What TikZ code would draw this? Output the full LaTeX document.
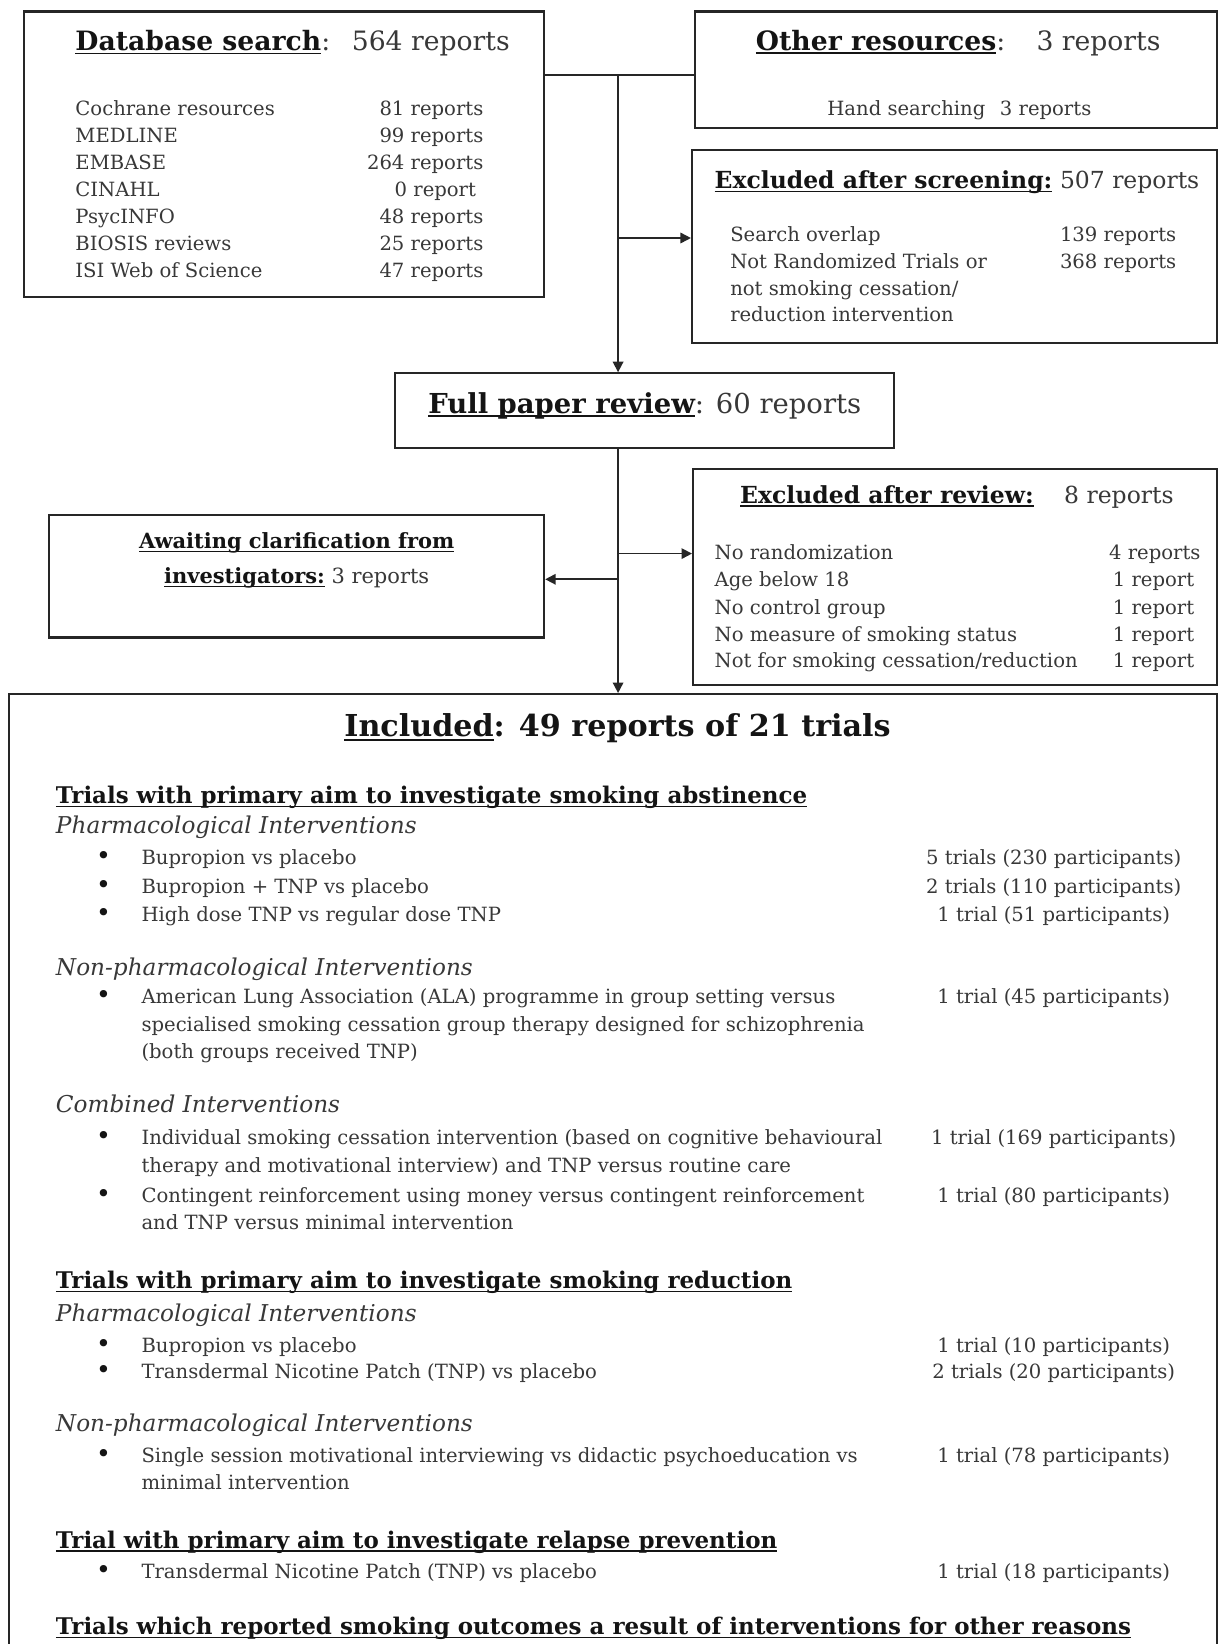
\documentclass[tikz,border=0pt]{standalone}
\usepackage{fontspec}
\setmainfont{DejaVu Serif}
\newfontfamily\condfont{DejaVu Serif}
\usetikzlibrary{arrows.meta,fit}
\definecolor{txtc}{gray}{0.22}
\definecolor{hdc}{gray}{0.08}
\definecolor{linec}{gray}{0.15}
\newcommand{\myul}[1]{\setbox0\hbox{#1}\rlap{\color{hdc}\rule[-1.8pt]{\wd0}{0.75pt}}\box0\relax}
\tikzset{
  box/.style={draw=linec, line width=1pt, inner sep=0pt, fill=white},
  conn/.style={draw=linec, line width=0.8pt},
  arr/.style={conn, -{Triangle[length=5pt,width=5pt]}},
  tx/.style={inner sep=0pt, outer sep=0pt, text=txtc},
  ttl/.style={tx, font=\fontsize{12.7}{15}\selectfont},
  xttl/.style={tx, font=\fontsize{11.2}{14}\selectfont},
  bd/.style={tx, font=\fontsize{9.35}{13}\selectfont},
  inctitle/.style={tx, text=hdc, font=\condfont\bfseries\fontsize{14.4}{17}\selectfont},
  ihead/.style={tx, text=hdc, font=\condfont\bfseries\fontsize{10.95}{13}\selectfont, anchor=base west},
  isub/.style={tx, font=\condfont\itshape\fontsize{11.05}{13}\selectfont, anchor=base west},
  ibody/.style={tx, font=\condfont\fontsize{9.35}{13}\selectfont, anchor=base west},
  iright/.style={tx, font=\condfont\fontsize{9.35}{13}\selectfont, anchor=base},
  bul/.style={tx, text=hdc, font=\condfont\fontsize{12}{13}\selectfont, anchor=base},
}
\begin{document}
\begin{tikzpicture}[x=0.5pt,y=-0.5pt]
\useasboundingbox (0,0) rectangle (1163,1568);
\clip (0,0) rectangle (1163,1568);
\fill[white] (0,0) rectangle (1163,1568);
% box corners
\coordinate (dbA) at (23,11);   \coordinate (dbB) at (519,283);
\coordinate (otA) at (663,11);  \coordinate (otB) at (1161,122);
\coordinate (e1A) at (660,143); \coordinate (e1B) at (1161,327.5);
\coordinate (fpA) at (377,356); \coordinate (fpB) at (853,427.5);
\coordinate (e2A) at (661,447); \coordinate (e2B) at (1161,653.5);
\coordinate (awA) at (47,491);  \coordinate (awB) at (519,608);
\coordinate (inA) at (8.5,662); \coordinate (inB) at (1161,1700);
\node[box, fit=(dbA)(dbB)] (db) {};
\node[box, fit=(otA)(otB)] (ot) {};
\node[box, fit=(e1A)(e1B)] (e1) {};
\node[box, fit=(fpA)(fpB)] (fp) {};
\node[box, fit=(e2A)(e2B)] (e2) {};
\node[box, fit=(awA)(awB)] (aw) {};
\node[box, fit=(inA)(inB)] (inc) {};
% connectors
\coordinate (j1) at (589.5,71.6);
\coordinate (j2) at (589.5,227);
\coordinate (j4) at (589.5,528);
\coordinate (j5) at (589.5,552.5);
\draw[conn] (db.east |- j1) -- (ot.west |- j1);
\draw[arr] (j1) -- (j1 |- fp.north);
\draw[arr] (j2) -- (e1.west |- j2);
\draw[arr] (j1 |- fp.south) -- (j1 |- inc.north);
\draw[arr] (j4) -- (e2.west |- j4);
\draw[arr] (j5) -- (aw.east |- j5);
% Database search
\node[ttl, anchor=base west] (dbt1) at (72,48) {\myul{\textcolor{hdc}{\bfseries Database search}}:};
\node[ttl, anchor=base west] (dbt2) at (335.6,48) {564 reports};
\node[bd, anchor=base west] (dbl1) at (72,109.7) {Cochrane resources};
\node[bd, anchor=base west] (dbl2) at (72,135.6) {MEDLINE};
\node[bd, anchor=base west] (dbl3) at (72,161.5) {EMBASE};
\node[bd, anchor=base west] (dbl4) at (72,187.4) {CINAHL};
\node[bd, anchor=base west] (dbl5) at (72,213.3) {PsycINFO};
\node[bd, anchor=base west] (dbl6) at (72,239.2) {BIOSIS reviews};
\node[bd, anchor=base west] (dbl7) at (72,265.1) {ISI Web of Science};
\node[bd, anchor=base east] (dbr1) at (461,109.7) {81 reports};
\node[bd, anchor=base east] (dbr2) at (461,135.6) {99 reports};
\node[bd, anchor=base east] (dbr3) at (461,161.5) {264 reports};
\node[bd, anchor=base east] (dbr4) at (454,187.4) {0 report};
\node[bd, anchor=base east] (dbr5) at (461,213.3) {48 reports};
\node[bd, anchor=base east] (dbr6) at (461,239.2) {25 reports};
\node[bd, anchor=base east] (dbr7) at (461,265.1) {47 reports};
% Other resources
\node[ttl, anchor=base west] (ott1) at (721,47.7) {\myul{\textcolor{hdc}{\bfseries Other resources}}:};
\node[ttl, anchor=base west] (ott2) at (988.6,47.7) {3 reports};
\node[bd, anchor=base] (otl) at (915,109.7) {Hand searching\hspace{4pt} 3 reports};
% Excluded after screening
\node[xttl, anchor=base west] (e1t1) at (681.6,179.7) {\myul{\textcolor{hdc}{\bfseries Excluded after screening:}}};
\node[xttl, anchor=base west] (e1t2) at (1011,179.7) {507 reports};
\node[bd, anchor=base west] (e1l1) at (696.5,230.6) {Search overlap};
\node[bd, anchor=base west] (e1l2) at (696.5,256) {Not Randomized Trials or};
\node[bd, anchor=base west] (e1l3) at (696.5,281.5) {not smoking cessation/};
\node[bd, anchor=base west] (e1l4) at (696.5,307) {reduction intervention};
\node[bd, anchor=base west] (e1r1) at (1011,230.6) {139 reports};
\node[bd, anchor=base west] (e1r2) at (1011,256) {368 reports};
% Full paper review
\node[ttl, anchor=base, font=\fontsize{13.1}{15}\selectfont] (fpt) at (615,394) {\myul{\textcolor{hdc}{\bfseries Full paper review}}: 60 reports};
% Excluded after review
\node[xttl, anchor=base west] (e2t1) at (706,480) {\myul{\textcolor{hdc}{\bfseries Excluded after review:}}};
\node[xttl, anchor=base west] (e2t2) at (1015,480) {8 reports};
\node[bd, anchor=base west] (e2l1) at (681.6,534) {No randomization};
\node[bd, anchor=base west] (e2l2) at (681.6,559.7) {Age below 18};
\node[bd, anchor=base west] (e2l3) at (681.6,585.8) {No control group};
\node[bd, anchor=base west] (e2l4) at (681.6,611.6) {No measure of smoking status};
\node[bd, anchor=base west] (e2l5) at (681.6,637) {Not for smoking cessation/reduction};
\node[bd, anchor=base east] (e2r1) at (1145,534) {4 reports};
\node[bd, anchor=base east] (e2r2) at (1139,559.7) {1 report};
\node[bd, anchor=base east] (e2r3) at (1139,585.8) {1 report};
\node[bd, anchor=base east] (e2r4) at (1139,611.6) {1 report};
\node[bd, anchor=base east] (e2r5) at (1139,637) {1 report};
% Awaiting
\node[bd, text=hdc, anchor=base, font=\bfseries\fontsize{10}{13}\selectfont] (awt1) at (283,523) {\myul{Awaiting clarification from}};
\node[bd, anchor=base, font=\fontsize{10}{13}\selectfont] (awt2) at (283,556.5) {\myul{\textcolor{hdc}{\bfseries investigators:}} 3 reports};
% Included
\node[inctitle, anchor=base] (int) at (589,702.8) {\myul{Included}: 49 reports of 21 trials};
\node[ihead] (h1) at (53.4,766.4) {\myul{Trials with primary aim to investigate smoking abstinence}};
\node[isub] (s1) at (53.4,795) {Pharmacological Interventions};
\node[bul] (b1) at (98.7,825) {\textbullet};
\node[ibody] (l1) at (135,825) {Bupropion vs placebo};
\node[iright] (r1) at (1005,825) {5 trials (230 participants)};
\node[bul] (b2) at (98.7,852) {\textbullet};
\node[ibody] (l2) at (135,852) {Bupropion + TNP vs placebo};
\node[iright] (r2) at (1005,852) {2 trials (110 participants)};
\node[bul] (b3) at (98.7,879) {\textbullet};
\node[ibody] (l3) at (135,879) {High dose TNP vs regular dose TNP};
\node[iright] (r3) at (1005,879) {1 trial (51 participants)};
\node[isub] (s2) at (53.4,930) {Non-pharmacological Interventions};
\node[bul] (b4) at (98.7,957) {\textbullet};
\node[ibody] (l4a) at (135,957) {American Lung Association (ALA) programme in group setting versus};
\node[ibody] (l4b) at (135,984) {specialised smoking cessation group therapy designed for schizophrenia};
\node[ibody] (l4c) at (135,1010) {(both groups received TNP)};
\node[iright] (r4) at (1005,957) {1 trial (45 participants)};
\node[isub] (s3) at (53.4,1061) {Combined Interventions};
\node[bul] (b5) at (98.7,1092) {\textbullet};
\node[ibody] (l5a) at (135,1092) {Individual smoking cessation intervention (based on cognitive behavioural};
\node[ibody] (l5b) at (135,1118) {therapy and motivational interview) and TNP versus routine care};
\node[iright] (r5) at (1005,1092) {1 trial (169 participants)};
\node[bul] (b6) at (98.7,1147) {\textbullet};
\node[ibody] (l6a) at (135,1147) {Contingent reinforcement using money versus contingent reinforcement};
\node[ibody] (l6b) at (135,1173) {and TNP versus minimal intervention};
\node[iright] (r6) at (1005,1147) {1 trial (80 participants)};
\node[ihead] (h2) at (53.4,1229) {\myul{Trials with primary aim to investigate smoking reduction}};
\node[isub] (s4) at (53.4,1260) {Pharmacological Interventions};
\node[bul] (b7) at (98.7,1289.5) {\textbullet};
\node[ibody] (l7) at (135,1289.5) {Bupropion vs placebo};
\node[iright] (r7) at (1005,1289.5) {1 trial (10 participants)};
\node[bul] (b8) at (98.7,1315) {\textbullet};
\node[ibody] (l8) at (135,1315) {Transdermal Nicotine Patch (TNP) vs placebo};
\node[iright] (r8) at (1005,1315) {2 trials (20 participants)};
\node[isub] (s5) at (53.4,1365) {Non-pharmacological Interventions};
\node[bul] (b9) at (98.7,1395) {\textbullet};
\node[ibody] (l9a) at (135,1395) {Single session motivational interviewing vs didactic psychoeducation vs};
\node[ibody] (l9b) at (135,1421) {minimal intervention};
\node[iright] (r9) at (1005,1395) {1 trial (78 participants)};
\node[ihead] (h3) at (53.4,1476.5) {\myul{Trial with primary aim to investigate relapse prevention}};
\node[bul] (b10) at (98.7,1505.6) {\textbullet};
\node[ibody] (l10) at (135,1505.6) {Transdermal Nicotine Patch (TNP) vs placebo};
\node[iright] (r10) at (1005,1505.6) {1 trial (18 participants)};
\node[ihead] (h4) at (53.4,1559) {\myul{Trials which reported smoking outcomes a result of interventions for other reasons}};
\end{tikzpicture}
\end{document}
